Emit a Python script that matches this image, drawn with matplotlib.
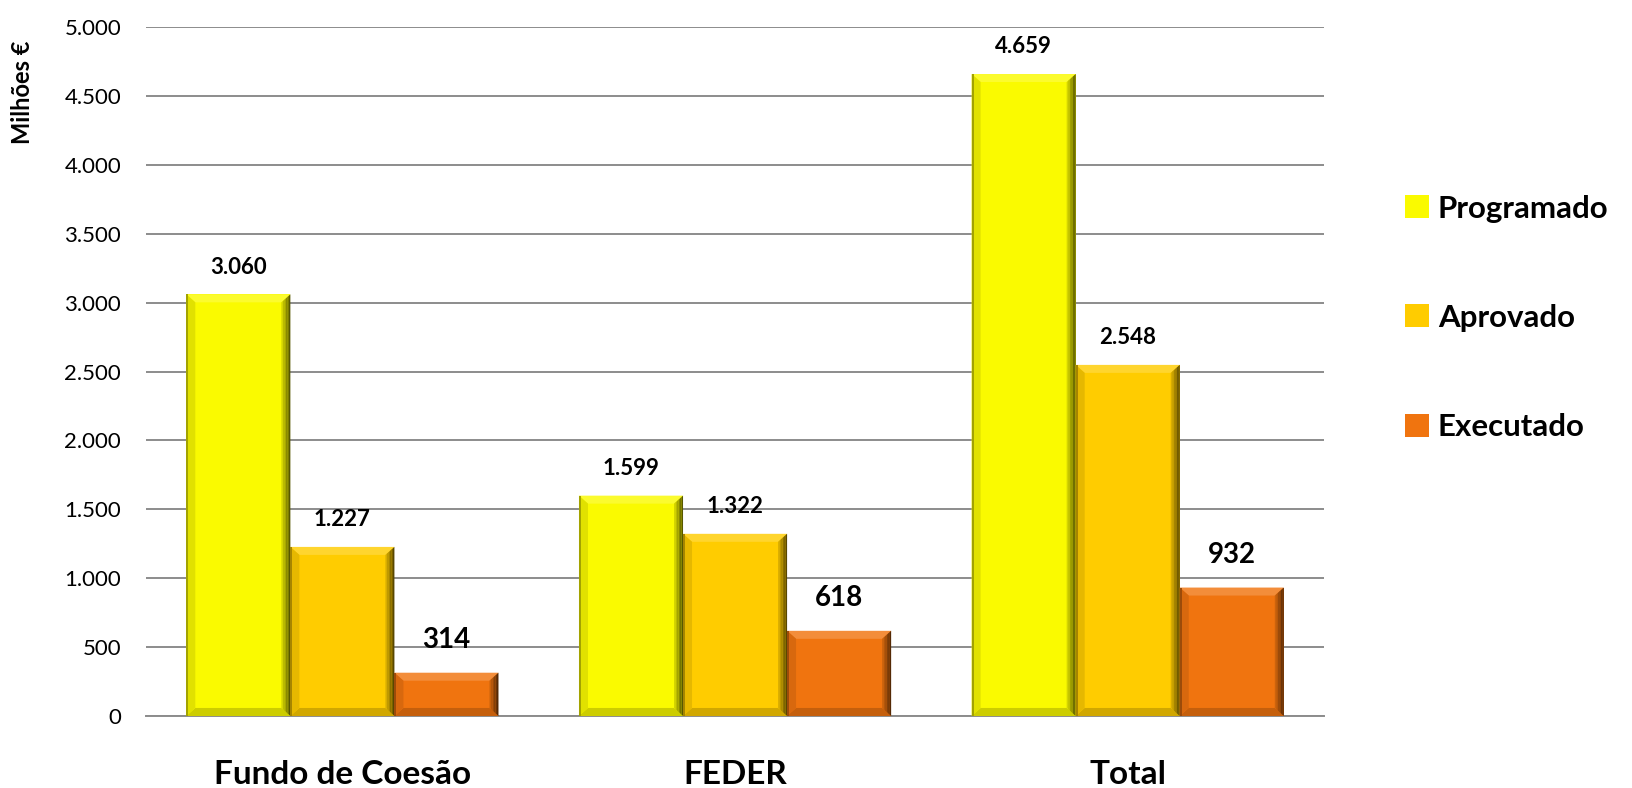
import matplotlib
matplotlib.use("Agg")
import matplotlib.pyplot as plt
from matplotlib.ticker import FuncFormatter, MultipleLocator
from matplotlib.patches import Polygon
from matplotlib.colors import to_rgb
import numpy as np

categories = ["Fundo de Coesão", "FEDER", "Total"]
series = ["Programado", "Aprovado", "Executado"]
programado = [3060, 1599, 4659]
aprovado = [1227, 1322, 2548]
executado = [314, 618, 932]
values = [programado, aprovado, executado]
colors = ["#FAFA00", "#FFCC00", "#F0740F"]

plt.rcParams['font.family'] = ['Lato', 'DejaVu Sans']

W, H = 16.32, 7.88
fig = plt.figure(figsize=(W, H), dpi=100)
ax = fig.add_axes([0.0895, 0.0914, 0.7218, 0.8743])
ax.set_xlim(-0.5, 2.5)
ax.set_ylim(0, 5000)

def fmt(v):
    return f"{int(round(v)):,}".replace(",", ".")

def shade(c, f):
    r, g, b = to_rgb(c)
    if f < 1:
        return (r * f, g * f, b * f)
    t = f - 1
    return (r + (1 - r) * t, g + (1 - g) * t, b + (1 - b) * t)

# pixel -> data conversions for bevel
ax_w_px = 0.7218 * W * 100
ax_h_px = 0.8743 * H * 100
xpp = 3.0 / ax_w_px
ypp = 5000.0 / ax_h_px

def bevel(bar, color):
    x0 = bar.get_x(); x1 = x0 + bar.get_width()
    y0 = bar.get_y(); y1 = y0 + bar.get_height()
    dx = 9 * xpp; dy = 8 * ypp
    dy = min(dy, (y1 - y0) / 2)
    polys = [
        ([(x0, y1), (x1, y1), (x1 - dx, y1 - dy), (x0 + dx, y1 - dy)], shade(color, 1.18)),
        ([(x0, y0), (x1, y0), (x1 - dx, y0 + dy), (x0 + dx, y0 + dy)], shade(color, 0.82)),
        ([(x0, y0), (x0 + dx, y0 + dy), (x0 + dx, y1 - dy), (x0, y1)], shade(color, 0.9)),
    ]
    for pts, c in polys:
        ax.add_patch(Polygon(pts, closed=True, facecolor=c, edgecolor="none", zorder=4))
    # right side gradient
    n = 6
    for k in range(n):
        a = dx * k / n
        b = dx * (k + 1) / n
        f = 0.95 - 0.6 * (k + 1) / n
        pts = [(x1 - dx + a, y1 - dy * (1 - k / n)), (x1 - dx + b, y1 - dy * (1 - (k + 1) / n)),
               (x1 - dx + b, y0 + dy * (1 - (k + 1) / n)), (x1 - dx + a, y0 + dy * (1 - k / n))]
        ax.add_patch(Polygon(pts, closed=True, facecolor=shade(color, f), edgecolor="none", zorder=4))
    # thin outer left line
    ax.add_patch(Polygon([(x0, y0), (x0 + 2 * xpp, y0), (x0 + 2 * xpp, y1), (x0, y1)],
                         closed=True, facecolor=shade(color, 0.65), edgecolor="none", zorder=5))

x = np.arange(len(categories))
w = 0.265
for i, (s, vals) in enumerate(zip(series, values)):
    pos = x + (i - 1) * w
    bars = ax.bar(pos, vals, width=w, color=colors[i], edgecolor="none",
                  linewidth=0, label=s, zorder=3)
    for b, v in zip(bars, vals):
        bevel(b, colors[i])
        fs = 20 if i == 2 else 16
        off = 14 if i == 2 else 12
        ax.annotate(fmt(v), (b.get_x() + b.get_width() / 2, v),
                    xytext=(0, off), textcoords="offset points",
                    ha="center", va="bottom", fontsize=fs, fontweight="bold",
                    color="black", zorder=6)

ax.yaxis.set_major_locator(MultipleLocator(500))
ax.yaxis.set_major_formatter(FuncFormatter(lambda v, p: fmt(v)))
ax.grid(axis="y", color="#8C8C8C", linewidth=1.4, zorder=0)
ax.set_axisbelow(True)
for sp in ["top", "right", "left"]:
    ax.spines[sp].set_visible(False)
ax.spines["bottom"].set_color("#8C8C8C")
ax.spines["bottom"].set_linewidth(1.4)
ax.tick_params(axis="y", length=0, labelsize=16, pad=18)
ax.tick_params(axis="x", length=0, labelsize=24, pad=32)
ax.set_xticks(x)
ax.set_xticklabels(categories, fontweight="bold")
ax.set_ylabel("Milhões €", fontsize=17, fontweight="bold")
ax.yaxis.set_label_coords(-0.095, 0.905)

leg = ax.legend(loc="center left", bbox_to_anchor=(1.045, 0.578), frameon=False,
                prop={"size": 22.5, "weight": "bold"}, labelspacing=2.6,
                handlelength=0.75, handleheight=0.75, handletextpad=0.3)

fig.savefig("out.png", dpi=100)
